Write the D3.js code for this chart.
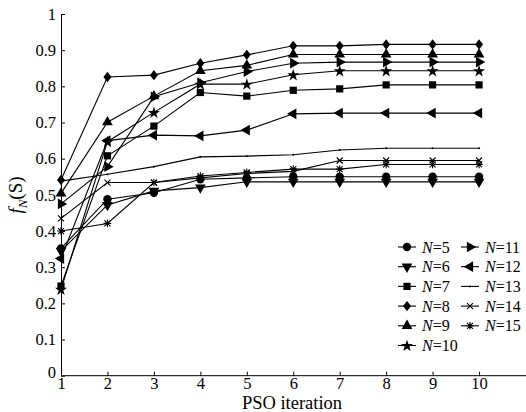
<!DOCTYPE html>
<html><head><meta charset="utf-8">
<script src="https://cdn.jsdelivr.net/npm/d3@7"></script>
<style>body{margin:0;background:#fff}svg{display:block}</style>
</head><body><svg id="c" width="526" height="412"></svg>
<script>
const iterations = [1,2,3,4,5,6,7,8,9,10];
const seriesNames = ["5","6","7","8","9","10","11","12","13","14","15"];
const N5  = [0.352,0.488,0.506,0.543,0.547,0.550,0.550,0.550,0.550,0.550];
const N6  = [0.345,0.472,0.511,0.520,0.536,0.536,0.536,0.536,0.536,0.536];
const N7  = [0.248,0.608,0.690,0.783,0.773,0.789,0.793,0.804,0.804,0.804];
const N8  = [0.541,0.826,0.831,0.864,0.887,0.912,0.912,0.916,0.916,0.916];
const N9  = [0.504,0.701,0.773,0.843,0.858,0.888,0.888,0.888,0.888,0.888];
const N10 = [0.239,0.647,0.728,0.806,0.806,0.832,0.843,0.843,0.843,0.843];
const N11 = [0.475,0.578,0.771,0.810,0.841,0.864,0.867,0.867,0.867,0.867];
const N12 = [0.324,0.650,0.665,0.663,0.679,0.724,0.726,0.726,0.726,0.726];
const N13 = [0.538,0.557,0.578,0.605,0.607,0.611,0.624,0.629,0.629,0.629];
const N14 = [0.435,0.534,0.534,0.547,0.559,0.565,0.595,0.595,0.595,0.595];
const N15 = [0.400,0.421,0.534,0.552,0.562,0.571,0.571,0.584,0.584,0.584];
const seriesValues = [N5,N6,N7,N8,N9,N10,N11,N12,N13,N14,N15];
const markers = ["circle","down","square","diamond","up","star","right","left","point","x","asterisk"];
const xTicks = [1,2,3,4,5,6,7,8,9,10];
const yTicks = [0,0.1,0.2,0.3,0.4,0.5,0.6,0.7,0.8,0.9,1];

const FONT = "'Liberation Serif', 'Times New Roman', Times, 'DejaVu Serif', serif";
const svg = d3.select("#c").attr("font-family", FONT);
const x = d3.scaleLinear().domain([1,11]).range([61,525.5]);
const y = d3.scaleLinear().domain([0,1]).range([375.7,14]);

// axes
const xAxis = d3.axisBottom(x).tickValues(xTicks).tickSizeInner(-4).tickSizeOuter(0).tickPadding(2).tickFormat(d3.format("d"));
const gx = svg.append("g").attr("transform",`translate(0,${y(0)})`).call(xAxis);
gx.select(".domain").attr("d",`M${x(1)},0H526`);
const yAxis = d3.axisLeft(y).tickValues(yTicks).tickSizeInner(-4).tickSizeOuter(0).tickPadding(5).tickFormat(d=>d===0?"0":d===1?"1":d3.format(".1f")(d));
const gy = svg.append("g").attr("transform",`translate(${x(1)},0)`).call(yAxis);
svg.selectAll("g").attr("font-family", FONT);
svg.selectAll(".domain").attr("stroke","#000").attr("stroke-width",1);
svg.selectAll(".tick line").attr("stroke","#000");
svg.selectAll(".tick text").attr("font-family",FONT).attr("font-size","16.5px").attr("fill","#000");
gy.selectAll(".tick").filter(d=>d===0).select("text").attr("dy","0.1em");

svg.append("text").attr("x",292).attr("y",409).attr("text-anchor","middle").attr("font-family",FONT).attr("font-size","18.5px").text("PSO iteration");
const yl = svg.append("text").attr("transform","translate(22,195) rotate(-90)").attr("text-anchor","middle").attr("font-family",FONT).attr("font-size","19px");
yl.append("tspan").attr("font-style","italic").text("f");
yl.append("tspan").attr("font-style","italic").attr("font-size","13px").attr("dy","5").text("N");
yl.append("tspan").attr("dy","-5").text("(S)");

function drawMarker(g, type, cx, cy){
  const tri = d3.symbol().type(d3.symbolTriangle).size(50)();
  switch(type){
    case "circle": g.append("circle").attr("cx",cx).attr("cy",cy).attr("r",4.2).attr("fill","#000"); break;
    case "square": g.append("path").attr("d",d3.symbol().type(d3.symbolSquare).size(52)()).attr("transform",`translate(${cx},${cy})`).attr("fill","#000"); break;
    case "diamond": g.append("path").attr("d","M0,-5.2L4,0L0,5.2L-4,0Z").attr("transform",`translate(${cx},${cy})`).attr("fill","#000"); break;
    case "up": g.append("path").attr("d",tri).attr("transform",`translate(${cx},${cy})`).attr("fill","#000"); break;
    case "down": g.append("path").attr("d",tri).attr("transform",`translate(${cx},${cy}) rotate(180)`).attr("fill","#000"); break;
    case "right": g.append("path").attr("d",tri).attr("transform",`translate(${cx},${cy}) rotate(90)`).attr("fill","#000"); break;
    case "left": g.append("path").attr("d",tri).attr("transform",`translate(${cx},${cy}) rotate(-90)`).attr("fill","#000"); break;
    case "star": g.append("path").attr("d",d3.symbol().type(d3.symbolStar).size(45)()).attr("transform",`translate(${cx},${cy+0.5})`).attr("fill","#000"); break;
    case "point": g.append("circle").attr("cx",cx).attr("cy",cy).attr("r",1).attr("fill","#000"); break;
    case "x": g.append("path").attr("d","M-3,-3L3,3M-3,3L3,-3").attr("transform",`translate(${cx},${cy})`).attr("stroke","#000").attr("stroke-width",1.1); break;
    case "asterisk": g.append("path").attr("d","M-3,-3L3,3M-3,3L3,-3M0,-3.8V3.8M-3.8,0H3.8").attr("transform",`translate(${cx},${cy})`).attr("stroke","#000").attr("stroke-width",1.1); break;
  }
}

const line = d3.line().x((d,i)=>x(iterations[i])).y(d=>y(d));
const plot = svg.append("g");
seriesValues.forEach((vals,k)=>{
  plot.append("path").attr("d",line(vals)).attr("fill","none").attr("stroke","#000").attr("stroke-width",1.1);
});
seriesValues.forEach((vals,k)=>{
  const g = plot.append("g");
  vals.forEach((v,i)=>drawMarker(g, markers[k], x(iterations[i]), y(v)));
});

// legend
const leg = svg.append("g");
seriesNames.forEach((n,k)=>{
  const col = k<6?0:1, row = k<6?k:k-6;
  const lx = col===0?398:461, ly = 247 + row*19.7;
  const g = leg.append("g");
  g.append("line").attr("x1",lx).attr("x2",lx+18).attr("y1",ly).attr("y2",ly).attr("stroke","#000").attr("stroke-width",1.1);
  drawMarker(g, markers[k], lx+9, ly);
  const t = g.append("text").attr("x",lx+24).attr("y",ly+5.5).attr("font-family",FONT).attr("font-size","16px");
  t.append("tspan").attr("font-style","italic").text("N");
  t.append("tspan").text("="+n);
});
</script></body></html>
